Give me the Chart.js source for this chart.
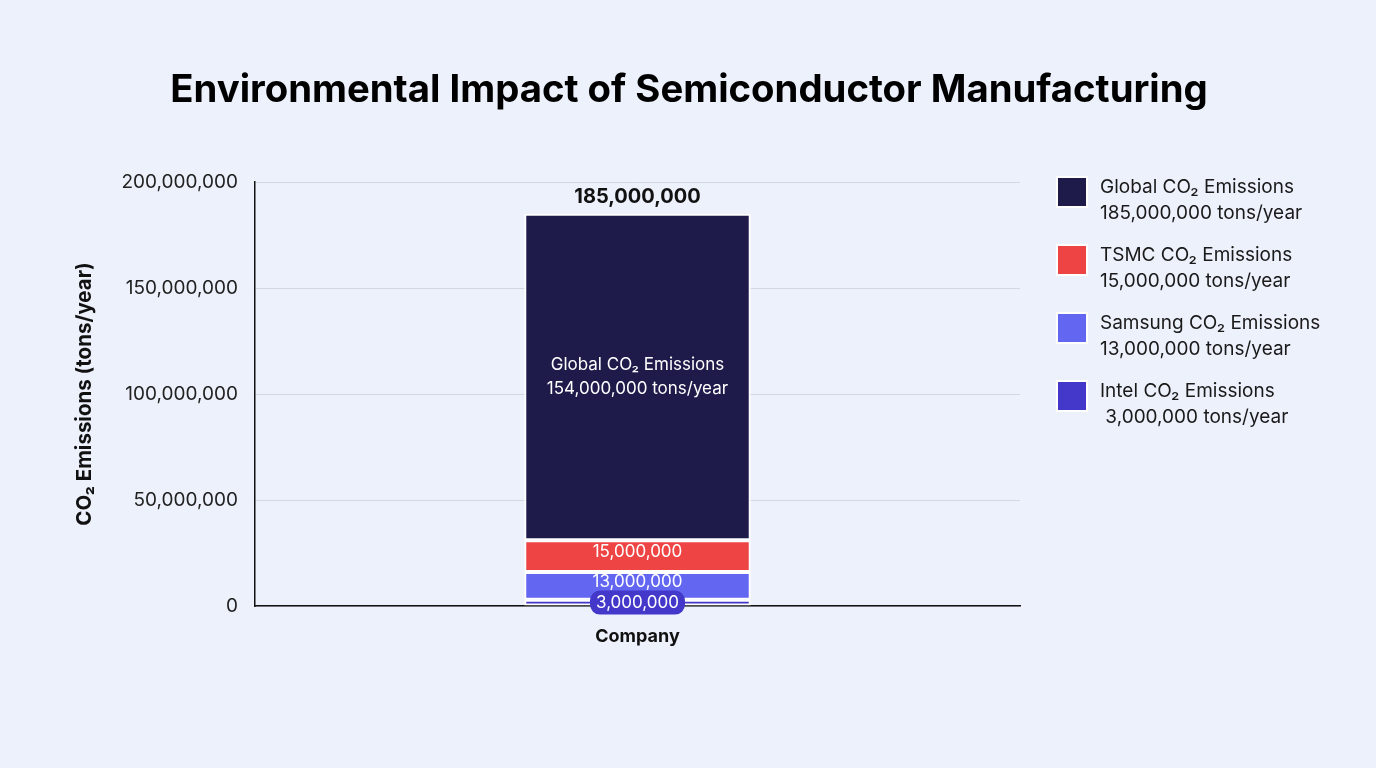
<!DOCTYPE html>
<html>
<head>
<meta charset="utf-8">
<script src="https://cdn.jsdelivr.net/npm/chart.js@4.4.1/dist/chart.umd.min.js"></script>
<style>
  html, body { margin: 0; padding: 0; background: #edf1fc; }
  #wrap { width: 1376px; height: 768px; position: relative; }
  canvas { display: block; }
</style>
</head>
<body>
<div id="wrap"><canvas id="c" width="1376" height="768"></canvas></div>
<script>
// ---- Data ----
const categories = [''];
const seriesNames = ['Intel', 'Samsung', 'TSMC', 'Global'];
const intelValues = [3000000];
const samsungValues = [13000000];
const tsmcValues = [15000000];
const globalValues = [154000000];
const seriesColors = ['#4338ca', '#6366f1', '#ef4444', '#1e1b4b'];
const yTicks = [0, 50000000, 100000000, 150000000, 200000000];
const titleText = 'Environmental Impact of Semiconductor Manufacturing';
const yTitle = 'CO\u2082 Emissions (tons/year)';
const xTitle = 'Company';

const fmt = v => v.toLocaleString('en-US');
const seriesValues = [intelValues, samsungValues, tsmcValues, globalValues];
const totals = categories.map((_, j) => seriesValues.reduce((s, arr) => s + arr[j], 0));
// legend shows the stacked total for Global
const legendAmounts = [intelValues[0], samsungValues[0], tsmcValues[0], totals[0]];

const FONT = 'Inter, "Noto Sans", "DejaVu Sans", sans-serif';

const bgPlugin = {
  id: 'bg',
  beforeDraw(chart) {
    const ctx = chart.ctx;
    ctx.save();
    ctx.fillStyle = '#edf1fc';
    ctx.fillRect(0, 0, chart.width, chart.height);
    // title
    ctx.fillStyle = '#000000';
    ctx.font = '700 38.3px ' + FONT;
    ctx.textAlign = 'center';
    ctx.textBaseline = 'middle';
    ctx.fillText(titleText, 689, 90);
    ctx.restore();
  }
};

const labelPlugin = {
  id: 'segLabels',
  afterDatasetsDraw(chart) {
    const ctx = chart.ctx;
    ctx.save();
    ctx.textAlign = 'center';
    ctx.textBaseline = 'middle';
    chart.data.datasets.forEach((ds, i) => {
      const meta = chart.getDatasetMeta(i);
      meta.data.forEach((bar, j) => {
        const p = bar.getProps(['x', 'y', 'base'], true);
        const cy = (p.y + p.base) / 2;
        const v = ds.data[j];
        ctx.font = '400 17px ' + FONT;
        ctx.fillStyle = '#ffffff';
        if (seriesNames[i] === 'Global') {
          ctx.fillText('Global CO\u2082 Emissions', p.x, cy - 12);
          ctx.fillText(fmt(v) + ' tons/year', p.x, cy + 12);
        } else if (seriesNames[i] === 'Intel') {
          const t = fmt(v);
          const w = ctx.measureText(t).width + 12;
          ctx.fillStyle = seriesColors[i];
          ctx.beginPath();
          ctx.roundRect(p.x - w / 2, cy - 12, w, 24, 10);
          ctx.fill();
          ctx.fillStyle = '#ffffff';
          ctx.fillText(t, p.x, cy);
        } else {
          ctx.fillText(fmt(v), p.x, cy - 4);
        }
      });
    });
    // total on top
    const lastMeta = chart.getDatasetMeta(chart.data.datasets.length - 1);
    lastMeta.data.forEach((bar, j) => {
      const p = bar.getProps(['x', 'y'], true);
      ctx.font = '700 20px ' + FONT;
      ctx.fillStyle = '#111111';
      ctx.fillText(fmt(totals[j]), p.x, p.y - 17);
    });
    ctx.restore();
  }
};

const legendPlugin = {
  id: 'customLegend',
  afterDraw(chart) {
    const ctx = chart.ctx;
    ctx.save();
    const x0 = 1058, y0 = 178, step = 68;
    const order = [3, 2, 1, 0];
    order.forEach((idx, k) => {
      const y = y0 + k * step;
      ctx.fillStyle = '#ffffff';
      ctx.fillRect(x0 - 2, y - 2, 32, 32);
      ctx.fillStyle = seriesColors[idx];
      ctx.fillRect(x0, y, 28, 28);
      ctx.fillStyle = '#1a1a1a';
      ctx.font = '400 19px ' + FONT;
      ctx.textAlign = 'left';
      ctx.textBaseline = 'middle';
      ctx.fillText(seriesNames[idx] + ' CO\u2082 Emissions', 1100, y + 9);
      const pre = seriesNames[idx] === 'Intel' ? ' ' : '';
      ctx.fillText(pre + fmt(legendAmounts[idx]) + ' tons/year', 1100, y + 35);
    });
    ctx.restore();
  }
};

const chart = new Chart(document.getElementById('c'), {
  type: 'bar',
  data: {
    labels: categories,
    datasets: seriesNames.map((n, i) => ({
      label: n + ' CO\u2082 Emissions',
      data: seriesValues[i],
      backgroundColor: seriesColors[i],
      borderColor: '#ffffff',
      borderWidth: 2,
      borderSkipped: false,
      categoryPercentage: 1,
      barPercentage: 0.296
    }))
  },
  options: {
    responsive: false,
    animation: false,
    layout: { padding: { left: 0, right: 356, top: 182, bottom: 0 } },
    plugins: {
      legend: { display: false },
      tooltip: { enabled: false },
      title: { display: false }
    },
    scales: {
      x: {
        stacked: true,
        grid: { display: false },
        border: { display: true, color: '#111111', width: 1.5 },
        ticks: { display: false },
        title: {
          display: true,
          text: xTitle,
          color: '#111111',
          font: { family: FONT, size: 18, weight: '700' },
          padding: { top: 0, bottom: 121 }
        },
        afterFit(s) { s.height = 162; }
      },
      y: {
        stacked: true,
        min: 0,
        max: 200000000,
        afterBuildTicks(s) { s.ticks = yTicks.map(v => ({ value: v })); },
        ticks: {
          callback: v => fmt(v),
          color: '#222222',
          font: { family: FONT, size: 19 },
          padding: 17
        },
        grid: { color: '#d3d7e0', lineWidth: 1, drawTicks: false },
        border: { display: true, color: '#111111', width: 1.5 },
        title: {
          display: true,
          text: yTitle,
          color: '#111111',
          font: { family: FONT, size: 20.5, weight: '700' },
          padding: { top: 73, bottom: 0 }
        },
        afterFit(s) { s.width = 255; }
      }
    }
  },
  plugins: [bgPlugin, labelPlugin, legendPlugin]
});
</script>
</body>
</html>
